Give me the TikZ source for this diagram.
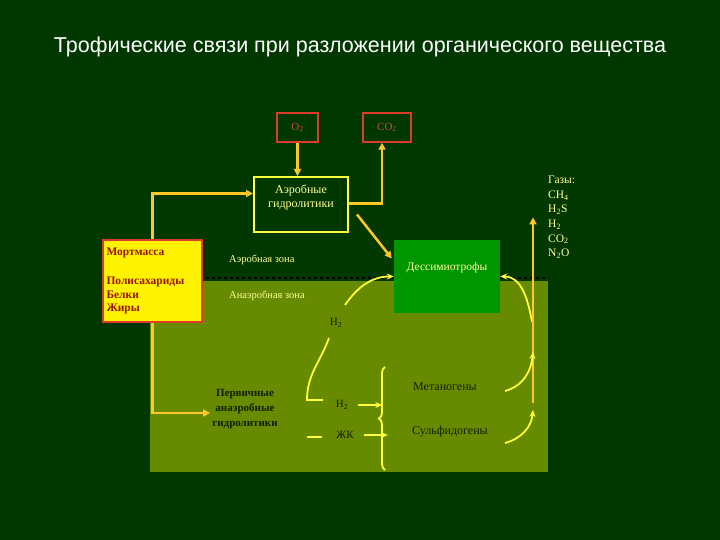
\documentclass[tikz,border=0pt]{standalone}
\usepackage{fontspec}
\setmainfont{Liberation Serif}
\newfontfamily\titlefont{Liberation Sans}
\usetikzlibrary{positioning, arrows.meta, decorations.pathreplacing}

\definecolor{bgdark}{RGB}{0,56,0}
\definecolor{soil}{RGB}{102,138,0}
\definecolor{arrowyel}{RGB}{255,200,40}
\definecolor{curveyel}{RGB}{255,255,60}
\definecolor{boxred}{RGB}{220,60,40}
\definecolor{oxtext}{RGB}{200,80,60}
\definecolor{dessgreen}{RGB}{0,150,0}
\definecolor{paleyel}{RGB}{255,255,150}
\definecolor{darktext}{RGB}{20,30,0}
\definecolor{mortred}{RGB}{150,20,0}

\begin{document}
\begin{tikzpicture}[x=1pt, y=-1pt,
	every node/.style={align=center, inner sep=2},
	redbox/.style={draw=boxred, line width=1.5, text=oxtext, font=\fontsize{11}{12}\selectfont},
	flow/.style={draw=arrowyel, line width=2.5, -{Triangle[length=7,width=7]}},
	curve/.style={draw=curveyel, line width=1.8, -{Stealth[length=7,width=6]}},
	plain/.style={draw=curveyel, line width=1.8},
	soiltext/.style={text=darktext, font=\fontsize{11}{13}\selectfont}]
	%Background
	\useasboundingbox (0,0) rectangle (720,540);
	\fill[bgdark] (0,0) rectangle (720,540);
	\fill[soil] (150,281) rectangle (548,472);
	\draw[black, line width=1.5, dashed] (152,278) -- (548,278);
	%Title
	\node[text=white, font=\titlefont\fontsize{21.5}{24}\selectfont] (title) at (360,47) {Трофические связи при разложении органического вещества};
	%Gases above
	\node[redbox, minimum width=41, minimum height=29] (otwo) at (297.5,127.5) {O\textsubscript{2}};
	\node[redbox, minimum width=48, minimum height=29] (ctwo) at (387,127.5) {CO\textsubscript{2}};
	%Aerobic zone
	\node[draw=curveyel, line width=2, minimum width=94, minimum height=55, text=paleyel, font=\fontsize{12}{14}\selectfont] (aero) at (301,204.5) {Аэробные\\гидролитики\\[2pt]};
	\node[draw=boxred, line width=2, fill=yellow, minimum width=99, minimum height=82, text width=92, inner sep=1, align=left, text=mortred, font=\bfseries\fontsize{11.5}{13.5}\selectfont] (mort) at (152.5,281) {Мортмасса\\[16pt]Полисахариды\\Белки\\Жиры};
	\node[fill=dessgreen, minimum width=106, minimum height=73, text=paleyel, font=\fontsize{11.5}{12}\selectfont] (dess) at (447,276.5) {Дессимиотрофы\\[8pt]};
	\node[text=paleyel, anchor=west, font=\fontsize{10.5}{12}\selectfont] (aerzone) at (227,260) {Аэробная зона};
	\node[text=paleyel, anchor=west, font=\fontsize{10.5}{12}\selectfont] (anzone) at (227,296) {Анаэробная зона};
	\node[text=paleyel, align=left, anchor=north west, font=\fontsize{11.5}{14.6}\selectfont] (gases) at (546,174) {Газы:\\CH\textsubscript{4}\\H\textsubscript{2}S\\H\textsubscript{2}\\CO\textsubscript{2}\\N\textsubscript{2}O};
	%Anaerobic zone
	\node[soiltext, font=\bfseries\fontsize{11}{15}\selectfont] (prim) at (245,409) {Первичные\\анаэробные\\гидролитики};
	\node[soiltext] (htop) at (336,323) {H\textsubscript{2}};
	\node[soiltext] (hmid) at (342,405) {H\textsubscript{2}};
	\node[soiltext] (acid) at (345,435) {ЖК};
	\node[soiltext, font=\fontsize{12}{14}\selectfont] (meth) at (445,387) {Метаногены};
	\node[soiltext, font=\fontsize{12}{14}\selectfont] (sulf) at (450,432) {Сульфидогены};
	%Free ends
	\coordinate (hcurve) at (329,338);
	\coordinate (hbend) at (307,400);
	\coordinate (acidl) at (307,437);
	\coordinate (bracebot) at (385,470);
	\coordinate (bracetop) at (385,367);
	\coordinate (leftup) at (345,305);
	\coordinate (rightup) at (532,322);
	\coordinate (gasbot) at (533,403);
	\coordinate (methup) at (505,391);
	\coordinate (sulfup) at (505,443);
	%Arrows
	\draw[flow] (mort.north) |- ([yshift=11]aero.west);
	\draw[flow] (mort.south) |- ([yshift=-4]prim.west);
	\draw[flow] (otwo.south) -- (otwo.south |- aero.north);
	\draw[flow] ([yshift=1]aero.east) -| ([xshift=-5]ctwo.south);
	\draw[flow] ([xshift=8,yshift=-10]aero.east) -- ([xshift=-2,yshift=18]dess.west);
	\draw[curve] (leftup) to[out=55, in=180] (dess.west);
	\draw[curve] (rightup) to[out=100, in=0] (dess.east);
	\draw[flow] (gasbot) -- (gasbot |- gases.west);
	\draw[curve] (methup) to[out=15, in=-95] (533,352);
	\draw[curve] (sulfup) to[out=15, in=-95] (533,410);
	\draw[plain] (hcurve) to[out=-110, in=90] (hbend) -- ++(16,0);
	\draw[plain] (acidl) -- ++(15,0);
	\draw[curve] ([xshift=8]hmid.east) -- ++(24,0);
	\draw[curve] ([xshift=8]acid.east) -- ++(24,0);
	\draw[plain, decorate, decoration={brace, amplitude=6}] (bracebot) -- (bracetop);
\end{tikzpicture}
\end{document}
